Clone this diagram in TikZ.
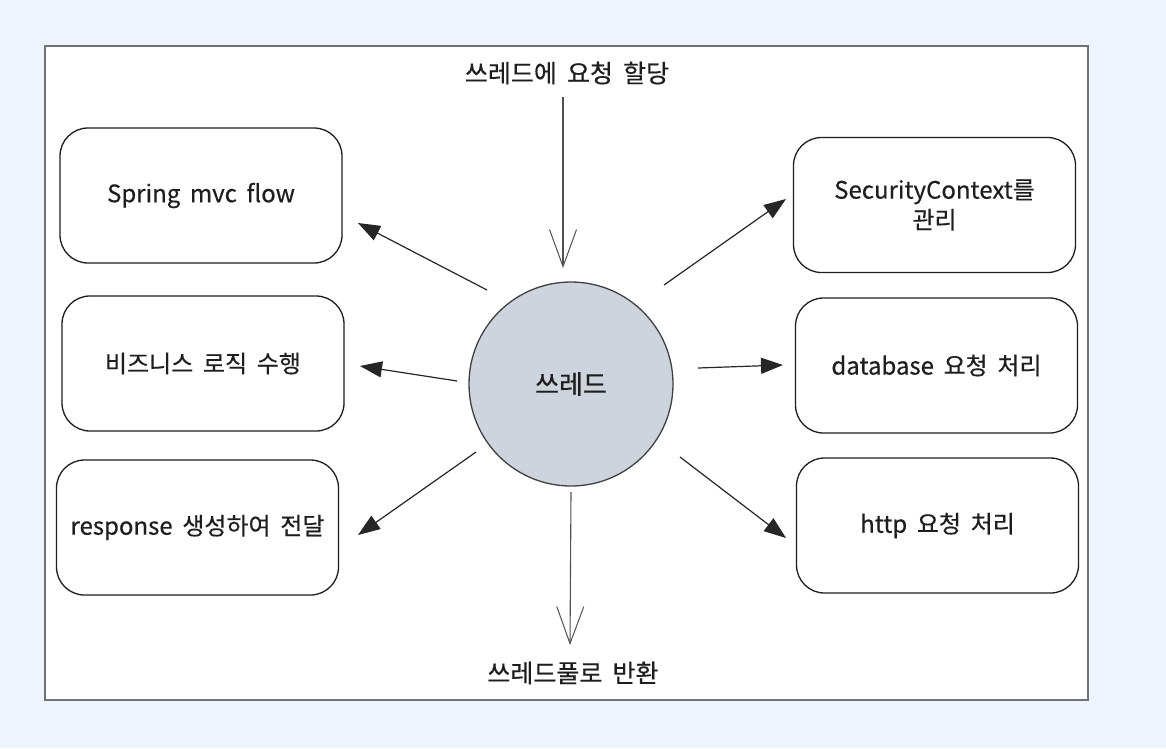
\documentclass[tikz,border=0pt]{standalone}
\usepackage{fontspec}
\setmainfont{Noto Sans CJK KR}[WordSpace=1.8, FakeBold=0.4]
\usetikzlibrary{arrows.meta}
\definecolor{bgblue}{HTML}{EEF3FC}
\definecolor{framegray}{HTML}{6E7279}
\definecolor{inkc}{HTML}{1E1E1E}
\definecolor{circfill}{HTML}{CED4DD}
\definecolor{arrc}{HTML}{262626}
\tikzset{
  boxnode/.style={draw=inkc, line width=1.3pt, rounded corners=28pt, fill=white,
    minimum width=282pt, minimum height=135pt, inner sep=0pt, align=center,
    font=\fontsize{24}{30}\selectfont, text=inkc},
  labelnode/.style={inner sep=0pt, font=\fontsize{25}{30}\selectfont, text=inkc},
  farr/.style={draw=arrc, line width=1.2pt, -{Triangle[length=22pt,width=16pt]}},
  varr/.style={draw=arrc!80, line width=1.1pt, -{Straight Barb[length=37pt,width=27pt,line width=1pt]}}
}
\begin{document}
\begin{tikzpicture}[x=1pt,y=-1pt]
\useasboundingbox (0,0) rectangle (1166,748);
\fill[bgblue] (0,0) rectangle (1166,748);
\draw[framegray, line width=1.5pt, fill=white] (45,46) rectangle (1088,700);

% boxes
\node[boxnode] (spring) at (201,195.5) {Spring mvc flow};
\node[boxnode] (biz) at (203,363.5) {비즈니스 로직 수행};
\node[boxnode] (resp) at (197.5,527.5) {response 생성하여 전달};
\node[boxnode] (sec) at (934.5,205) {SecurityContext를\\관리};
\node[boxnode] (db) at (936.5,365.5) {database 요청 처리};
\node[boxnode] (http) at (937.5,525.5) {http 요청 처리};

% centre
\node[circle, draw=inkc!85, line width=1.3pt, fill=circfill, minimum size=204pt,
  inner sep=0pt, font=\fontsize{26}{30}\selectfont, text=inkc] (c) at (571,384) {쓰레드};

% labels
\node[labelnode] (top) at (567,73) {쓰레드에 요청 할당};
\node[labelnode] (bot) at (573,673) {쓰레드풀로 반환};

% arrow end points
\coordinate (ts) at (563,97);   \coordinate (te) at (563,268);
\coordinate (bs) at (571,492);  \coordinate (be) at (570,645);
\coordinate (s1) at (487,290);  \coordinate (e1) at (358,223);
\coordinate (s2) at (457,381);  \coordinate (e2) at (360,366);
\coordinate (s3) at (476,452);  \coordinate (e3) at (358,535);
\coordinate (s4) at (664,285);  \coordinate (e4) at (786,199);
\coordinate (s5) at (698,368);  \coordinate (e5) at (783,365);
\coordinate (s6) at (680,457);  \coordinate (e6) at (786,538);

\draw[varr] (ts) -- (te);
\draw[varr] (bs) -- (be);
\draw[farr] (s1) -- (e1);
\draw[farr] (s2) -- (e2);
\draw[farr] (s3) -- (e3);
\draw[farr] (s4) -- (e4);
\draw[farr] (s5) -- (e5);
\draw[farr] (s6) -- (e6);
\end{tikzpicture}
\end{document}
